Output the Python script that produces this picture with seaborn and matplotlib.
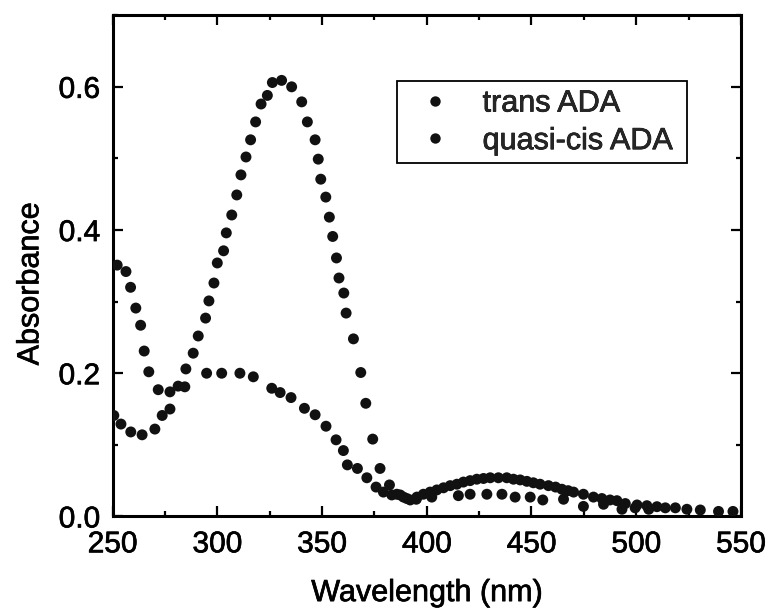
import matplotlib
matplotlib.use("Agg")
import matplotlib.pyplot as plt
from matplotlib.ticker import MultipleLocator
import matplotlib.patheffects as pe
import pandas as pd
import seaborn as sns

# Absorption spectra (wavelength in nm, absorbance)
trans_nm = [250.6, 254.0, 258.7, 264.1, 270.2, 273.7, 277.4, 285.0, 288.5, 290.9,
            294.4, 296.0, 298.4, 300.0, 303.0, 304.3, 306.9, 309.3, 311.3, 313.7,
            315.9, 318.3, 320.9, 323.9, 326.3, 330.7, 335.5, 340.3, 343.0, 346.7,
            348.2, 349.4, 351.8, 353.5, 355.1, 356.9, 358.1, 360.4, 361.5, 365.0,
            368.5, 370.9, 374.2, 377.7, 382.2, 385.7, 388.9, 392.1, 395.3, 398.4,
            401.6, 404.8, 408.0, 411.2, 414.4, 417.5, 420.7, 423.9, 427.1, 430.3,
            434.2, 438.2, 441.4, 444.6, 447.8, 450.9, 454.1, 458.1, 461.5, 464.5,
            467.5, 470.1, 474.8, 479.6, 483.6, 487.5, 490.8, 494.8, 500.4, 505.1,
            509.9, 513.9, 518.7, 524.2, 530.6, 539.3, 546.2]
trans_abs = [0.141, 0.129, 0.118, 0.114, 0.122, 0.141, 0.150, 0.206, 0.228, 0.252,
             0.277, 0.301, 0.326, 0.354, 0.371, 0.396, 0.421, 0.449, 0.477, 0.502,
             0.526, 0.551, 0.576, 0.588, 0.606, 0.609, 0.600, 0.579, 0.551, 0.526,
             0.499, 0.471, 0.446, 0.418, 0.391, 0.361, 0.333, 0.312, 0.284, 0.248,
             0.201, 0.158, 0.108, 0.067, 0.044, 0.031, 0.027, 0.023, 0.027, 0.031,
             0.034, 0.037, 0.040, 0.043, 0.045, 0.048, 0.050, 0.052, 0.053, 0.054,
             0.054, 0.054, 0.052, 0.051, 0.049, 0.047, 0.045, 0.043, 0.041, 0.038,
             0.036, 0.034, 0.031, 0.027, 0.025, 0.023, 0.022, 0.018, 0.016, 0.015,
             0.0136, 0.012, 0.012, 0.010, 0.009, 0.007, 0.007]

cis_nm = [252.2, 256.4, 258.6, 261.1, 263.4, 265.1, 267.3, 271.8, 277.4, 281.3,
          284.5, 294.9, 302.1, 310.8, 317.2, 326.0, 330.0, 335.2, 341.6, 346.7,
          351.9, 356.7, 360.2, 362.1, 366.9, 371.4, 375.8, 379.3, 383.3, 387.3,
          390.5, 395.0, 402.4, 415.1, 420.7, 428.7, 435.9, 442.2, 449.4, 455.4,
          465.3, 474.8, 484.4, 493.2, 499.5, 506.0]
cis_abs = [0.351, 0.342, 0.320, 0.291, 0.267, 0.231, 0.202, 0.177, 0.174, 0.182,
           0.181, 0.200, 0.200, 0.200, 0.195, 0.179, 0.173, 0.166, 0.151, 0.142,
           0.126, 0.107, 0.092, 0.072, 0.067, 0.054, 0.041, 0.034, 0.030, 0.030,
           0.025, 0.024, 0.027, 0.029, 0.031, 0.031, 0.031, 0.027, 0.027, 0.023,
           0.024, 0.014, 0.017, 0.010, 0.012, 0.010]

series_names = ["trans ADA", "quasi-cis ADA"]
x_ticks = [250, 300, 350, 400, 450, 500, 550]
y_ticks = [0.0, 0.2, 0.4, 0.6]

df = pd.concat([
    pd.DataFrame({"Wavelength": trans_nm, "Absorbance": trans_abs, "Sample": series_names[0]}),
    pd.DataFrame({"Wavelength": cis_nm, "Absorbance": cis_abs, "Sample": series_names[1]}),
], ignore_index=True)

sns.set_style("ticks")
plt.rcParams["font.family"] = ["Liberation Sans", "DejaVu Sans"]

fig = plt.figure(figsize=(7.71, 6.09), dpi=100)
ax = fig.add_axes([0.146, 0.152, 0.815, 0.823])

dot_color = "#111111"
sns.scatterplot(data=df, x="Wavelength", y="Absorbance", hue="Sample",
                palette={series_names[0]: dot_color, series_names[1]: dot_color},
                s=62, linewidth=0, edgecolor="none", ax=ax, zorder=3)

ax.set_xlim(250, 550)
ax.set_ylim(0, 0.7)
ax.set_xticks(x_ticks)
ax.set_xticklabels([f"{v}" for v in x_ticks])
ax.set_yticks(y_ticks)
ax.set_yticklabels([f"{v:.1f}" for v in y_ticks])
ax.xaxis.set_minor_locator(MultipleLocator(25))
ax.yaxis.set_minor_locator(MultipleLocator(0.1))

for sp in ax.spines.values():
    sp.set_visible(True)
    sp.set_linewidth(2.2)
    sp.set_color("black")

ax.tick_params(which="both", direction="in", top=True, right=True,
               colors="black", width=1.6)
ax.tick_params(which="major", length=7)
ax.tick_params(which="minor", length=3.6)
ax.tick_params(axis="x", which="major", pad=10, labelsize=21.5)
ax.tick_params(axis="y", which="major", pad=9, labelsize=21.5)

ax.set_xlabel("Wavelength (nm)", fontsize=22, color="black")
ax.set_ylabel("Absorbance", fontsize=22, color="black")
ax.xaxis.set_label_coords(0.5, -0.123)
ax.yaxis.set_label_coords(-0.107, 0.4636)

handles, labels = ax.get_legend_handles_labels()
leg = ax.legend(handles, labels, loc="upper left",
                bbox_to_anchor=(0.4527, 0.70, 0.4618, 0.1684), mode="expand",
                borderaxespad=0, fontsize=22, frameon=True, fancybox=False,
                borderpad=0.24, handlelength=2.0, handletextpad=0.56,
                labelspacing=0.25, markerscale=0.95)
frame = leg.get_frame()
frame.set_edgecolor("black")
frame.set_linewidth(1.3)
frame.set_facecolor("white")
frame.set_alpha(1)

# slightly heavier strokes on all text
stroke = [pe.withStroke(linewidth=0.5, foreground="black")]
texts = (ax.get_xticklabels() + ax.get_yticklabels()
         + [ax.xaxis.label, ax.yaxis.label] + leg.get_texts())
for t in texts:
    t.set_path_effects(stroke)

fig.savefig("out.png", dpi=100)
